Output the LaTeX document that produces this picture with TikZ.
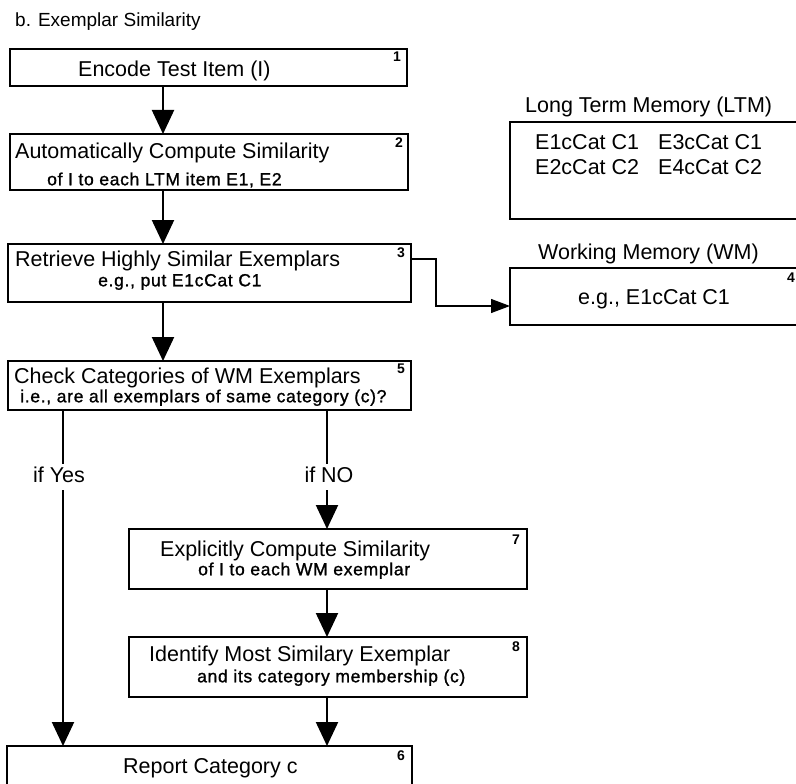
\documentclass[tikz,border=0pt]{standalone}
\usepackage{fontspec}
\setmainfont{Liberation Sans}
\newfontfamily\subfont[LetterSpace=4,FakeBold=1.2]{Liberation Sans}
\usetikzlibrary{arrows.meta,calc}
\begin{document}
\begin{tikzpicture}[x=1pt,y=-1pt,
  box/.style={draw, line width=2.2pt, inner sep=0pt, outer sep=0pt},
  big/.style={font=\fontsize{21.5}{24}\selectfont, inner sep=0pt, anchor=west, text height=15.4pt, text depth=0pt},
  sub/.style={font=\subfont\fontsize{17.5}{20}\selectfont, inner sep=0pt, anchor=west, text height=12.5pt, text depth=0pt},
  num/.style={font=\bfseries\fontsize{14}{16}\selectfont, inner sep=0pt},
  lab/.style={font=\fontsize{21.5}{24}\selectfont, fill=white, inner sep=3pt, text height=15.4pt, text depth=4pt},
  arr/.style={line width=2.2pt, -{Triangle[width=22pt,length=24pt]}},
  thinarr/.style={line width=1.2pt, -{Triangle[width=14pt,length=19pt]}}]
\clip (0,0) rectangle (796,784);
\fill[white] (0,0) rectangle (796,784);

\node[anchor=west, inner sep=0pt, font=\fontsize{19}{21}\selectfont] (title) at (15,22) {b. Exemplar Similarity};

% boxes
\node[box, minimum width=397pt, minimum height=37pt] (b1) at (208.5,67.5) {};
\node[box, minimum width=398pt, minimum height=56pt] (b2) at (209,162) {};
\node[box, minimum width=403pt, minimum height=58pt] (b3) at (209.5,273) {};
\node[box, minimum width=403pt, minimum height=49pt] (b5) at (209.5,385.5) {};
\node[box, minimum width=398pt, minimum height=60pt] (b7) at (328,559) {};
\node[box, minimum width=398pt, minimum height=60pt] (b8) at (328,667) {};
\node[box, minimum width=405pt, minimum height=64pt] (b6) at (209.5,778) {};
\node[box, minimum width=300pt, minimum height=97pt] (ltm) at (660,170.5) {};
\node[box, minimum width=300pt, minimum height=57pt] (wm) at (660,296.5) {};

% numbers
\node[num] (n1) at (397,57) {1};
\node[num] (n2) at (399,143) {2};
\node[num] (n3) at (401,253) {3};
\node[num] (n5) at (401,369) {5};
\node[num] (n7) at (516,540) {7};
\node[num] (n8) at (516,647) {8};
\node[num] (n6) at (401,756) {6};
\node[num] (n4) at (791,278) {4};

% texts
\node[big] (t1) at (78,69) {Encode Test Item (I)};
\node[big] (t2a) at (15,151) {Automatically Compute Similarity};
\node[sub] (t2b) at (47,179) {of I to each LTM item E1, E2};
\node[big] (t3a) at (15,259) {Retrieve Highly Similar Exemplars};
\node[sub] (t3b) at (98,280) {e.g., put E1cCat C1};
\node[big] (t5a) at (14,376) {Check Categories of WM Exemplars};
\node[sub] (t5b) at (20,396) {i.e., are all exemplars of same category (c)?};
\node[big] (t7a) at (160,549) {Explicitly Compute Similarity};
\node[sub] (t7b) at (198,569) {of I to each WM exemplar};
\node[big] (t8a) at (149,654) {Identify Most Similary Exemplar};
\node[sub] (t8b) at (197,676) {and its category membership (c)};
\node[big] (t6) at (123,766) {Report Category c};

\node[big] (ltmt) at (525,105) {Long Term Memory (LTM)};
\node[big] (e1) at (535,142) {E1cCat C1};
\node[big] (e3) at (658,142) {E3cCat C1};
\node[big] (e2) at (535,167) {E2cCat C2};
\node[big] (e4) at (658,167) {E4cCat C2};
\node[big] (wmt) at (538,252) {Working Memory (WM)};
\node[big] (wme) at (578,297) {e.g., E1cCat C1};

% connectors
\coordinate (xa) at (163,0);
\coordinate (xy) at (63,0);
\coordinate (xn) at (327,0);
\draw[arr] (xa |- b1.south) -- (xa |- b2.north);
\draw[arr] (xa |- b2.south) -- (xa |- b3.north);
\draw[arr] (xa |- b3.south) -- (xa |- b5.north);
\draw[thinarr] ($(b3.north east)+(0,15)$) -- ++(25,0) |- ($(wm.north west)+(0,38)$);
\draw[arr] (xy |- b5.south) -- (xy |- b6.north);
\draw[arr] (xn |- b5.south) -- (xn |- b7.north);
\draw[arr] (xn |- b7.south) -- (xn |- b8.north);
\draw[arr] (xn |- b8.south) -- (xn |- b6.north);
\node[lab] (ly) at (59,477) {if Yes};
\node[lab] (ln) at (329,477) {if NO};
\end{tikzpicture}
\end{document}
